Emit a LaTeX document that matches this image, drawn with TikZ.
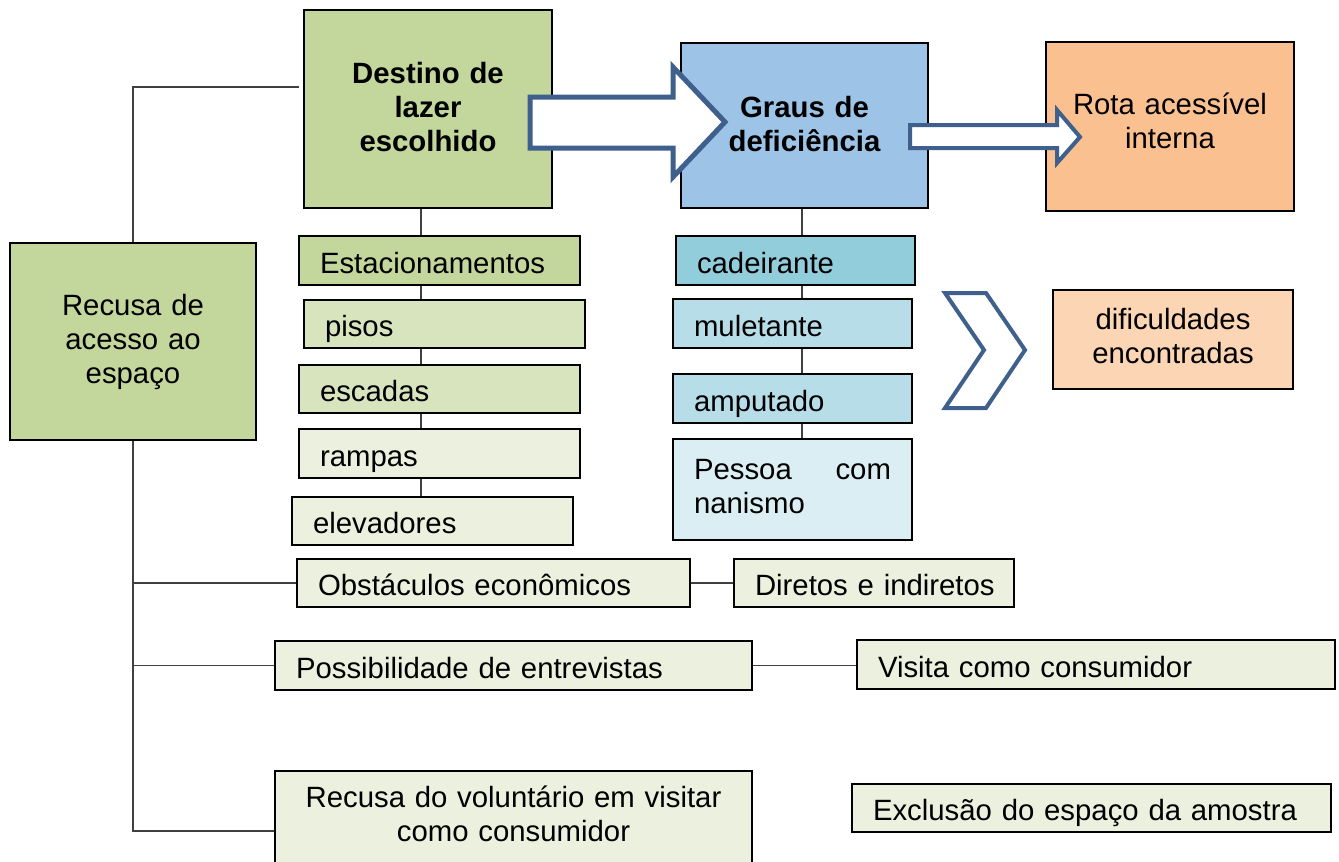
\documentclass[tikz,border=0pt]{standalone}
\usepackage{fontspec}
\setmainfont{Liberation Sans}
\usetikzlibrary{calc}
\pgfdeclarelayer{bg}
\pgfsetlayers{bg,main}
\definecolor{gA}{HTML}{C3D69B}
\definecolor{gB}{HTML}{D7E4BD}
\definecolor{gC}{HTML}{EBF1DE}
\definecolor{bA}{HTML}{9DC3E6}
\definecolor{bB}{HTML}{92CDDC}
\definecolor{bC}{HTML}{B7DEE8}
\definecolor{bD}{HTML}{DAEEF3}
\definecolor{oA}{HTML}{FAC090}
\definecolor{oB}{HTML}{FCD5B5}
\definecolor{arr}{HTML}{3F5F8C}
\definecolor{ln}{HTML}{404040}
\begin{document}
\begin{tikzpicture}[x=0.75pt,y=-0.75pt,
  every node/.style={font=\fontsize{22}{25.5}\selectfont},
  bx/.style={draw=black, line width=1.2pt, inner sep=0pt},
  lbox/.style 2 args={bx, align=left, inner xsep=15.75pt, inner ysep=0pt, text width=#1, minimum height=#2},
  sl/.style={text height=20pt, text depth=1.2pt},
  cbox/.style 2 args={bx, align=center, text width=#1, minimum height=#2},
  conn/.style={draw=ln, line width=0.9pt},
  bigarrow/.style={draw=arr, fill=white, line join=miter}]
\useasboundingbox (0,0) rectangle (1339,861);

% main boxes
\node[cbox={186pt}{148.5pt}, fill=gA, font=\fontsize{22}{25.5}\selectfont\bfseries, text height=16pt, text depth=55pt] (dest) at (428,109) {Destino de\\lazer\\escolhido};
\node[cbox={185.25pt}{123.75pt}, fill=bA, font=\fontsize{22}{25.5}\selectfont\bfseries, text height=16pt, text depth=27.5pt] (graus) at (804.5,125.5) {Graus de\\deficiência};
\node[cbox={186pt}{126.75pt}, fill=oA, text height=16pt, text depth=34.5pt] (rota) at (1170,126.5) {Rota acessível\\interna};
\node[cbox={184.5pt}{147.75pt}, fill=gA] (recusa) at (133,341.5) {Recusa de\\acesso ao\\espaço};
\node[cbox={180pt}{74.25pt}, fill=oB, text height=16pt, text depth=31.5pt] (dific) at (1173,339.5) {dificuldades\\encontradas};

% green column
\node[lbox={179.25pt}{36.75pt}, sl, fill=gA] (est) at (439.5,260.5) {Estacionamentos};
\node[lbox={179.25pt}{36pt}, sl, fill=gB] (pisos) at (444.5,324) {pisos};
\node[lbox={179.25pt}{36pt}, sl, fill=gB] (escadas) at (439.5,389) {escadas};
\node[lbox={179.25pt}{36.75pt}, sl, fill=gC] (rampas) at (439.5,453.5) {rampas};
\node[lbox={179.25pt}{36pt}, sl, fill=gC] (elev) at (432.5,521) {elevadores};

% blue column
\node[lbox={147.75pt}{36.75pt}, sl, fill=bB] (cad) at (795.5,260.5) {cadeirante};
\node[lbox={147.75pt}{36.75pt}, sl, fill=bC] (mul) at (792.5,323.5) {muletante};
\node[lbox={147.75pt}{36.75pt}, sl, fill=bC] (amp) at (792.5,398.5) {amputado};
\node[lbox={147.75pt}{75.75pt}, fill=bD, text height=16pt, text depth=31.5pt] (pessoa) at (792.5,489.5) {Pessoa\hfill com\\nanismo};

% lower rows
\node[lbox={263.25pt}{36pt}, sl, fill=gC] (obst) at (493.5,583) {\mbox{Obstáculos econômicos}};
\node[lbox={178.5pt}{36pt}, sl, fill=gC] (dir) at (874,583) {\mbox{Diretos e indiretos}};
\node[lbox={326.25pt}{36.75pt}, sl, fill=gC] (poss) at (513.5,665.5) {\mbox{Possibilidade de entrevistas}};
\node[lbox={327pt}{36.75pt}, sl, fill=gC] (vis) at (1096,664.5) {\mbox{Visita como consumidor}};
\node[bx, fill=gC, anchor=north, align=center, text width=357.75pt, text height=27.75pt, text depth=54.75pt] (recv) at (513.5,770) {Recusa do voluntário em visitar\\como consumidor};
\node[lbox={327.75pt}{36pt}, sl, fill=gC] (excl) at (1091.5,808) {\mbox{Exclusão do espaço da amostra}};

\coordinate (topend) at (299,87);
\coordinate (rb) at (133,831);

\begin{pgfonlayer}{bg}
\draw[conn] (recusa.north) |- (topend);
\draw[conn] (recusa.south) -- (rb) -- (rb -| recv.west);
\draw[conn] (recusa.south |- obst.west) -- (obst.west);
\draw[conn] (recusa.south |- poss.west) -- (poss.west);
\draw[conn] (obst.east) -- (dir.west);
\draw[conn] (poss.east) -- (poss.east -| vis.west);
\draw[conn] ([xshift=-5.25pt]dest.south) -- ([xshift=-5.25pt]dest.south |- elev.north);
\draw[conn] ([xshift=-1.9pt]graus.south) -- ([xshift=-1.9pt]graus.south |- pessoa.north);
\end{pgfonlayer}

% block arrows
\draw[bigarrow, line width=3.75pt] (530,97) -- (673,97) -- (673,67) -- (725,122) -- (673,177) -- (673,148) -- (530,148) -- cycle;
\draw[bigarrow, line width=3pt] (910,125) -- (1057,125) -- (1057,110) -- (1080,137) -- (1057,163) -- (1057,148) -- (910,148) -- cycle;
\draw[bigarrow, line width=3pt] (945,293) -- (986,293) -- (1025,350) -- (986,408) -- (945,408) -- (984,350) -- cycle;
\end{tikzpicture}
\end{document}
